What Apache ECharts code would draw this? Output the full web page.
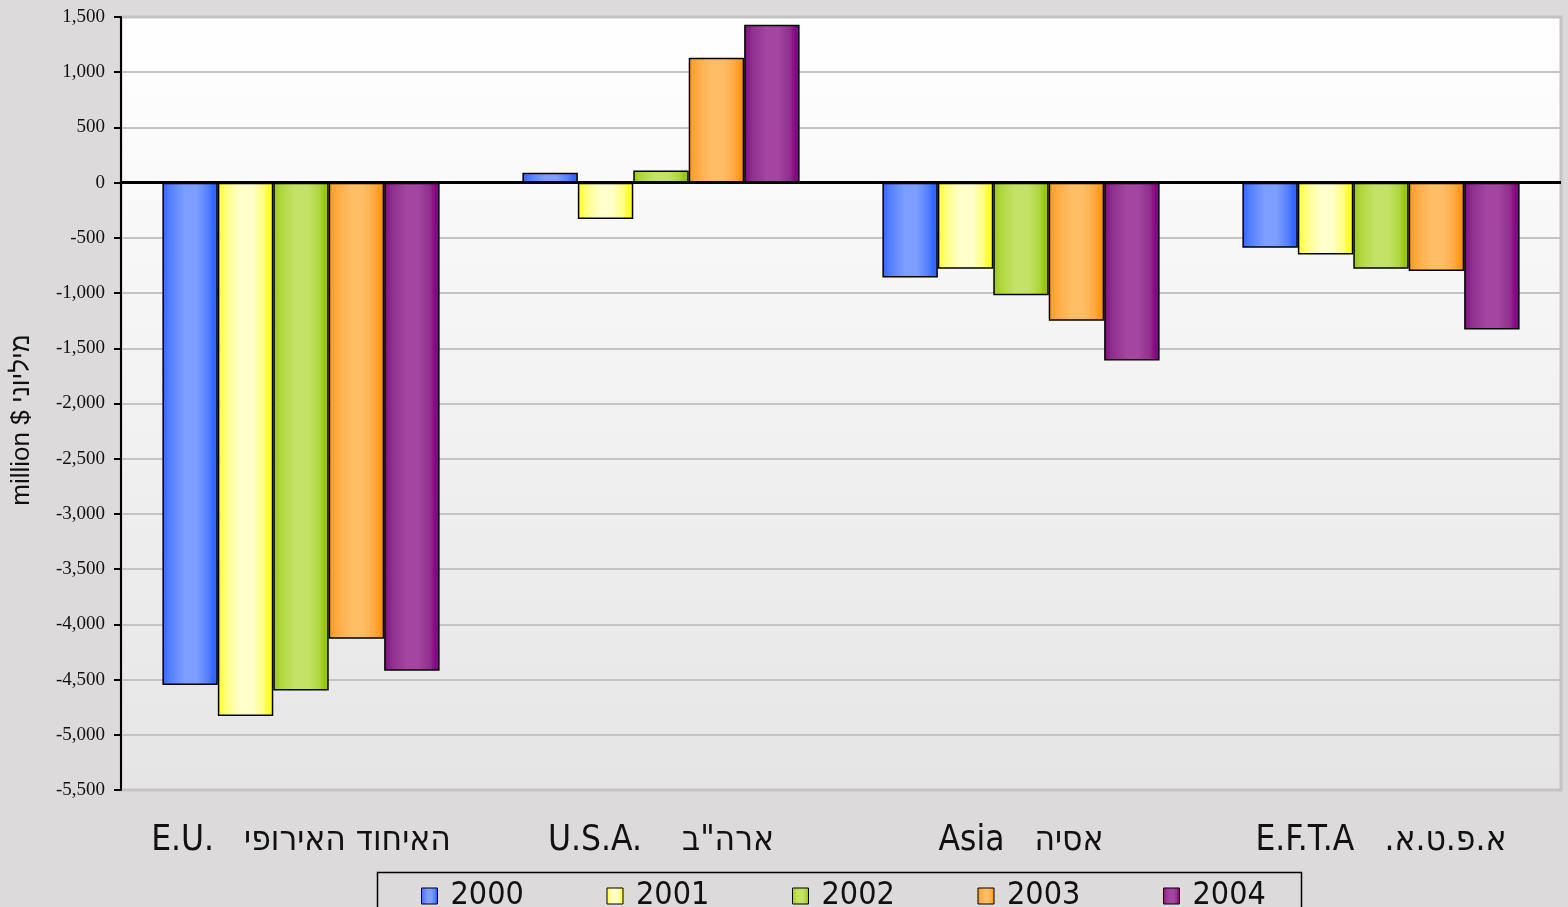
<!DOCTYPE html>
<html>
<head>
<meta charset="utf-8">
<script src="https://cdn.jsdelivr.net/npm/echarts@6/dist/echarts.min.js"></script>
<style>
html,body{margin:0;padding:0;background:#dcdada;}
#c{width:1568px;height:907px;}
</style>
</head>
<body>
<div id="c"></div>
<script>
const categories = ['E.U.   האיחוד האירופי', 'U.S.A.    ארה"ב', 'Asia   אסיה', 'E.F.T.A   א.פ.ט.א.\u200F'];
const years = ['2000', '2001', '2002', '2003', '2004'];
const v2000 = [-4550, 90, -860, -590];
const v2001 = [-4830, -330, -780, -650];
const v2002 = [-4600, 110, -1020, -780];
const v2003 = [-4130, 1130, -1250, -800];
const v2004 = [-4420, 1430, -1610, -1330];
const yTicks = { min: -5500, max: 1500, interval: 500 };
const axisTitle = 'million $ מיליוני';

const values = [v2000, v2001, v2002, v2003, v2004];
const palette = [
  ['#3366ff', '#5580ff', '#7d9dff'],
  ['#ffff2a', '#ffff80', '#ffffcc'],
  ['#99c710', '#b0d840', '#c4e268'],
  ['#ff9914', '#ffaa44', '#ffbe66'],
  ['#800a80', '#90308f', '#a445a0']
];
function grad(p) {
  return new echarts.graphic.LinearGradient(0, 0, 1, 0, [
    { offset: 0, color: p[0] },
    { offset: 0.15, color: p[1] },
    { offset: 0.4, color: p[2] },
    { offset: 0.62, color: p[2] },
    { offset: 0.82, color: p[1] },
    { offset: 0.92, color: p[0] },
    { offset: 1, color: p[0] }
  ]);
}

const series = years.map((y, i) => ({
  name: y,
  type: 'bar',
  data: values[i],
  barGap: '0%',
  barCategoryGap: '23%',
  itemStyle: { color: grad(palette[i]), borderColor: '#000', borderWidth: 1.5 },
  markLine: i === 0 ? {
    silent: true, symbol: 'none', label: { show: false },
    lineStyle: { color: '#000', width: 3, type: 'solid' },
    data: [{ yAxis: 0 }], z: 10
  } : undefined
}));

const chart = echarts.init(document.getElementById('c'), null, { renderer: 'canvas' });
chart.setOption({
  animation: false,
  backgroundColor: '#dcdada',
  grid: {
    left: 121, right: 7, top: 17, bottom: 117,
    show: true,
    backgroundColor: new echarts.graphic.LinearGradient(0, 0, 0, 1, [
      { offset: 0, color: '#ffffff' },
      { offset: 1, color: '#e5e5e5' }
    ]),
    borderColor: '#c4c4c4', borderWidth: 3
  },
  xAxis: {
    type: 'category',
    data: categories,
    position: 'bottom',
    axisLine: { show: false, onZero: false },
    axisTick: { show: false },
    axisLabel: {
      interval: 0, margin: 33, color: '#111',
      fontFamily: 'DejaVu Sans Condensed', fontSize: 35
    }
  },
  yAxis: {
    type: 'value',
    min: yTicks.min, max: yTicks.max, interval: yTicks.interval,
    axisLine: { show: true, lineStyle: { color: '#000', width: 2 } },
    axisTick: { show: true, length: 7, lineStyle: { color: '#000', width: 2 } },
    axisLabel: {
      margin: 16, color: '#111', fontFamily: 'Liberation Serif', fontSize: 19,
      formatter: v => v.toLocaleString('en-US')
    },
    splitLine: { show: true, lineStyle: { color: '#c4c4c4', width: 2 } }
  },
  legend: {
    data: years,
    left: 416, top: 873,
    orient: 'horizontal',
    icon: 'rect',
    itemWidth: 16, itemHeight: 16,
    itemGap: 4,
    itemStyle: { borderColor: '#000', borderWidth: 1 },
    textStyle: { fontFamily: 'DejaVu Sans Condensed', fontSize: 32, color: '#111', width: 152, lineHeight: 36, padding: [0,0,0,8] }
  },
  graphic: [
    {
      type: 'rect', left: 375, top: 870, silent: true,
      shape: { width: 924, height: 60 },
      style: { fill: 'none', stroke: '#000', lineWidth: 1.5 }
    },
    {
      type: 'text', x: 22, y: 420, rotation: Math.PI / 2, silent: true,
      style: {
        text: axisTitle, fill: '#111', font: '26px "Liberation Sans"',
        textAlign: 'center', textVerticalAlign: 'middle'
      }
    }
  ],
  series: series
});
</script>
</body>
</html>
